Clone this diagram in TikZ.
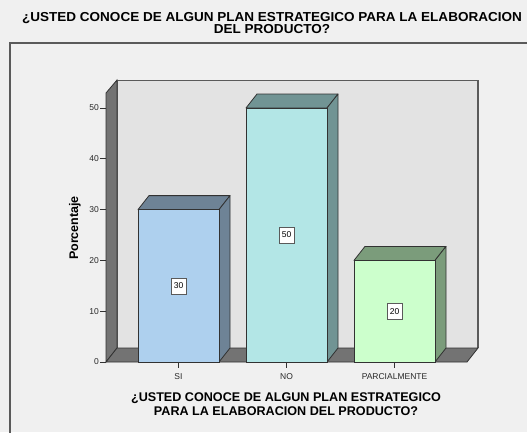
\documentclass[tikz,border=0pt]{standalone}
\usepackage{fontspec}
\setmainfont{Liberation Sans}
\definecolor{chartbg}{RGB}{240,240,240}
\definecolor{wallgray}{RGB}{227,227,227}
\definecolor{floorgray}{RGB}{115,115,115}
\definecolor{edgegray}{RGB}{50,50,50}
\definecolor{framegray}{RGB}{90,90,90}
\definecolor{textgray}{RGB}{40,40,40}
\definecolor{siblue}{RGB}{174,208,238}
\definecolor{sishade}{RGB}{110,131,150}
\definecolor{nocyan}{RGB}{179,230,230}
\definecolor{noshade}{RGB}{113,148,148}
\definecolor{pagreen}{RGB}{204,255,204}
\definecolor{pashade}{RGB}{123,156,123}

\begin{document}
\begin{tikzpicture}[x=1pt, y=-1pt,
    bartitle/.style={font=\bfseries\fontsize{12.6}{14}\selectfont, align=center, text=black},
    ticklabel/.style={font=\fontsize{8.5}{10}\selectfont, text=textgray, inner sep=1pt},
    valuebox/.style={draw=framegray, fill=white, font=\fontsize{8.5}{10}\selectfont,
        minimum width=15pt, minimum height=16pt, inner sep=1pt}]
    \useasboundingbox (0,0) rectangle (527,432);
    \fill[chartbg] (0,0) rectangle (527,432);

    % Title
    \node[font=\bfseries\fontsize{13}{11}\selectfont, align=center, anchor=base] (title) at (272,33.5)
        {\scalebox{1.04}[1]{¿USTED CONOCE DE ALGUN PLAN ESTRATEGICO PARA LA ELABORACION}\\
         \scalebox{1.04}[1]{DEL PRODUCTO?}};

    % Outer frame
    \draw[framegray, line width=1.2pt] (10,433) -- (10,43) -- (528,43);

    % Back wall
    \fill[wallgray] (117,80) rectangle (478,348);
    \draw[framegray, line width=0.8pt] (117,348) -- (117,80) -- (478,80);
    \draw[framegray, line width=1.5pt] (478,80) -- (478,348);

    % Left wall and floor
    \filldraw[fill=floorgray, draw=edgegray, line width=0.8pt]
        (106,362) -- (106,93) -- (117,80) -- (117,348) -- cycle;
    \filldraw[fill=floorgray, draw=edgegray, line width=0.8pt]
        (106,362) -- (117,348) -- (478,348) -- (467,362) -- cycle;

    % Y axis ticks
    \foreach \v in {0,10,...,50} {
        \pgfmathsetmacro\ty{362-5.08*\v}
        \draw[edgegray, line width=0.7pt] (100,\ty) -- (106,\ty);
        \node[ticklabel, anchor=east] (ytick\v) at (100,\ty) {\v};
    }
    \node[font=\bfseries\fontsize{12.5}{14}\selectfont, rotate=90] (ylabel) at (75,228) {Porcentaje};

    % Bars
    \foreach \L/\v/\front/\shade/\cat [count=\i] in
        {138/30/siblue/sishade/SI, 246/50/nocyan/noshade/NO, 354/20/pagreen/pashade/PARCIALMENTE} {
        \pgfmathsetmacro\T{362-5.08*\v}
        \pgfmathsetmacro\R{\L+81}
        \filldraw[fill=\shade, draw=edgegray, line width=0.8pt, line join=round]
            (\L,\T) -- (\L+11,\T-14) -- (\R+11,\T-14) -- (\R,\T) -- cycle;
        \filldraw[fill=\shade, draw=edgegray, line width=0.8pt, line join=round]
            (\R,\T) -- (\R+11,\T-14) -- (\R+11,348) -- (\R,362) -- cycle;
        \filldraw[fill=\front, draw=edgegray, line width=0.8pt] (\L,362) rectangle (\R,\T);
        \node[valuebox] (val\i) at ({\L+40.5},{(362+\T)/2}) {\v};
        \draw[edgegray, line width=0.7pt] ({\L+40.5},362) -- ({\L+40.5},368);
        \node[ticklabel, anchor=base] (cat\i) at ({\L+40.5},379.5) {\cat};
    }

    % Axis title
    \node[bartitle, anchor=base] (xtitle) at (286,415)
        {¿USTED CONOCE DE ALGUN PLAN ESTRATEGICO\\PARA LA ELABORACION DEL PRODUCTO?};
\end{tikzpicture}
\end{document}
